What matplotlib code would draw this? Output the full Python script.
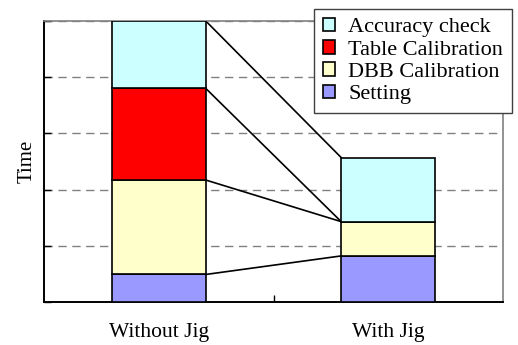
import numpy as np
import matplotlib
matplotlib.use('Agg')
from matplotlib import pyplot as plt

# categories and stacked segment heights (bottom to top)
categories = ['Without Jig', 'With Jig']
setting = np.array([0.49, 0.82])
dbb_cal = np.array([1.68, 0.61])
table_cal = np.array([1.63, 0.0])
accuracy = np.array([1.20, 1.14])

series_names = ['Setting', 'DBB Calibration', 'Table Calibration', 'Accuracy check']
series_colors = ['#9999FF', '#FFFFCC', '#FF0000', '#CCFFFF']

plt.rcParams['font.family'] = ['Liberation Serif', 'DejaVu Serif']
plt.rcParams['font.size'] = 15

fig = plt.figure(figsize=(5.18, 3.45), dpi=100)
ax = fig.add_axes([44 / 518, 43 / 345, 459 / 518, 281 / 345])

x = np.arange(len(categories))
width = 0.41
bottom = np.zeros(len(categories))
handles = []
for vals, name, col in zip([setting, dbb_cal, table_cal, accuracy], series_names, series_colors):
    b = ax.bar(x, vals, width, bottom=bottom, color=col, edgecolor='black',
               linewidth=1.2, label=name, zorder=3)
    handles.append(b)
    bottom = bottom + vals

# series lines between the two stacks
tops = np.cumsum(np.vstack([setting, dbb_cal, table_cal, accuracy]), axis=0)
for row in tops:
    ax.plot([x[0] + width / 2, x[1] - width / 2], [row[0], row[1]],
            color='black', linewidth=1.2, zorder=2)

ax.set_xlim(-0.5, 1.5)
ax.set_ylim(0, 5)
ax.set_yticks(np.arange(0, 6, 1))
ax.set_yticklabels([])
ax.yaxis.grid(True, linestyle=(0, (6, 4)), color='#808080', linewidth=1.0, zorder=1)
ax.set_axisbelow(True)

ax.set_xticks(x)
ax.set_xticklabels(categories, fontsize=15.5)
ax.set_xticks([0.5], minor=True)
ax.tick_params(axis='x', which='major', length=0, pad=15)
ax.tick_params(axis='x', which='minor', direction='in', length=5, width=1)
ax.tick_params(axis='y', direction='in', length=5, width=1)

ax.set_ylabel('Time', labelpad=2)

for side in ['left', 'bottom']:
    ax.spines[side].set_color('black')
    ax.spines[side].set_linewidth(1.4)
for side in ['top', 'right']:
    ax.spines[side].set_color('#808080')
    ax.spines[side].set_linewidth(1.2)

leg = ax.legend(handles[::-1], series_names[::-1], loc='upper right',
                bbox_to_anchor=(512 / 518, 1 - 9 / 345), bbox_transform=fig.transFigure,
                borderaxespad=0, fancybox=False, framealpha=1, edgecolor='#404040',
                handlelength=0.55, handleheight=0.55, handletextpad=0.6,
                labelspacing=0.12, borderpad=0.4, fontsize=16)
leg.get_frame().set_linewidth(1.0)

fig.savefig('out.png', dpi=100)
